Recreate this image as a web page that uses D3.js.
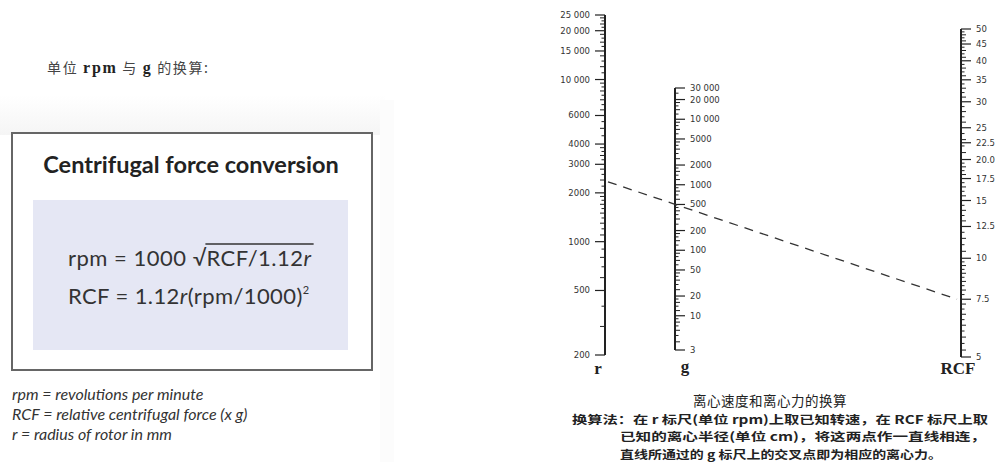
<!DOCTYPE html>
<html><head><meta charset="utf-8">
<script src="https://cdn.jsdelivr.net/npm/d3@7"></script>
<style>html,body{margin:0;padding:0;background:#fff;}svg{display:block;}</style>
</head><body>
<svg id="c" width="1000" height="462"></svg>
<script>
// ---- data ----
const rpmTicks = [25000, 20000, 15000, 10000, 6000, 4000, 3000, 2000, 1000, 500, 200];
const rpmLabels = ["25 000", "20 000", "15 000", "10 000", "6000", "4000", "3000", "2000", "1000", "500", "200"];
const gTicks = [30000, 20000, 10000, 5000, 2000, 1000, 500, 200, 100, 50, 20, 10, 3];
const gLabels = ["30 000", "20 000", "10 000", "5000", "2000", "1000", "500", "200", "100", "50", "20", "10", "3"];
const rcfTicks = [50, 45, 40, 35, 30, 25, 22.5, 20, 17.5, 15, 12.5, 10, 7.5, 5];
const rcfLabels = ["50", "45", "40", "35", "30", "25", "22.5", "20.0", "17.5", "15", "12.5", "10", "7.5", "5"];
const exampleRpm = 2340;     // known speed on r scale
const exampleRadius = 7.5;   // known radius on RCF scale (cm)
const axisTitles = ["r", "g", "RCF"];

const svg = d3.select("#c");

// ---- background scan shading ----
const defs = svg.append("defs");
const lg = defs.append("linearGradient").attr("id", "band").attr("x1", 0).attr("y1", 0).attr("x2", 0).attr("y2", 1);
lg.append("stop").attr("offset", "0").attr("stop-color", "#fff");
lg.append("stop").attr("offset", "1").attr("stop-color", "#f5f5f5");
svg.append("rect").attr("x", 0).attr("y", 95).attr("width", 385).attr("height", 40).attr("fill", "url(#band)");
svg.append("rect").attr("x", 380).attr("y", 100).attr("width", 14).attr("height", 362).attr("fill", "#fcfcfc");

// ---- left: heading ----
const hd = svg.append("text").attr("x", 47).attr("y", 73)
  .attr("font-family", "'Noto Sans CJK SC', sans-serif").attr("font-size", 14).attr("fill", "#444")
  .attr("textLength", 161).attr("lengthAdjust", "spacing");
hd.append("tspan").text("单位 ");
hd.append("tspan").attr("font-family", "'Liberation Serif', serif").attr("font-weight", "bold").attr("font-size", 16).attr("fill", "#222").text("rpm");
hd.append("tspan").text(" 与 ");
hd.append("tspan").attr("font-family", "'Liberation Serif', serif").attr("font-weight", "bold").attr("font-size", 16).attr("fill", "#222").text("g");
hd.append("tspan").text(" 的换算:");

// ---- left: box ----
svg.append("rect").attr("x", 12).attr("y", 133).attr("width", 360).attr("height", 237)
  .attr("fill", "#fff").attr("stroke", "#666").attr("stroke-width", 2);
svg.append("text").attr("x", 191).attr("y", 173).attr("text-anchor", "middle")
  .attr("font-family", "Lato, sans-serif").attr("font-weight", "bold").attr("font-size", 23.5).attr("fill", "#222")
  .text("Centrifugal force conversion");
svg.append("rect").attr("x", 33).attr("y", 200).attr("width", 315).attr("height", 150).attr("fill", "#e5e7f4");

const fFont = "Lato, sans-serif", fSize = 22, fCol = "#333";
// formula 1
const f1a = svg.append("text").attr("x", 68).attr("y", 266).attr("font-family", fFont).attr("font-size", fSize).attr("fill", fCol)
  .attr("letter-spacing", 0.5).text("rpm = 1000\u00a0");
const w1 = f1a.node().getComputedTextLength();
const rad = svg.append("text").attr("x", 68 + w1).attr("y", 266).attr("font-family", fFont).attr("font-size", fSize).attr("fill", fCol).text("√");
const wr = rad.node().getComputedTextLength();
const f1b = svg.append("text").attr("x", 68 + w1 + wr).attr("y", 266).attr("font-family", fFont).attr("font-size", fSize).attr("fill", fCol)
  .attr("letter-spacing", 0.5);
f1b.append("tspan").text("RCF/1.12");
f1b.append("tspan").attr("font-style", "italic").text("r");
const wb = f1b.node().getComputedTextLength();
svg.append("line").attr("x1", 68 + w1 + wr - 1).attr("x2", 68 + w1 + wr + wb + 2).attr("y1", 244).attr("y2", 244)
  .attr("stroke", fCol).attr("stroke-width", 1.4);
// formula 2
const f2 = svg.append("text").attr("x", 68).attr("y", 304).attr("font-family", fFont).attr("font-size", fSize).attr("fill", fCol)
  .attr("letter-spacing", 0.4);
f2.append("tspan").text("RCF = 1.12");
f2.append("tspan").attr("font-style", "italic").text("r");
f2.append("tspan").text("(rpm/1000)");
f2.append("tspan").attr("font-size", 11).attr("dy", -10).text("2");

// legend lines
const legendLines = [
  "rpm = revolutions per minute",
  "RCF = relative centrifugal force (x g)",
  "r = radius of rotor in mm"
];
legendLines.forEach((l, i) => {
  svg.append("text").attr("x", 12).attr("y", 400 + i * 20).attr("font-family", fFont).attr("font-style", "italic")
    .attr("font-size", 16).attr("fill", "#333").text(l);
});

// ---- right: nomogram ----
const rX = 605, gX = 675, cX = 961;
const yRpm = d3.scaleLog().domain([200, 25000]).range([355, 15]);
const yG = d3.scaleLog().domain([3, 30000]).range([350, 88]);
const yRcf = d3.scaleLog().domain([5, 50]).range([357, 29]);

const tickFont = "'DejaVu Sans', sans-serif";
const ink = "#222";

// minor tick sets (axis graduations)
const rpmMinor = [].concat(d3.range(300, 500, 100), d3.range(600, 1000, 100), d3.range(1100, 2000, 100),
  d3.range(2200, 4000, 200), d3.range(4500, 10000, 500), d3.range(11000, 25000, 1000));
const gMinor = [].concat(d3.range(4, 10, 1), d3.range(12, 20, 2), d3.range(25, 50, 5), d3.range(60, 100, 10),
  d3.range(120, 200, 20), d3.range(250, 500, 50), d3.range(600, 1000, 100), d3.range(1200, 2000, 200),
  d3.range(2500, 5000, 500), d3.range(6000, 10000, 1000), d3.range(12000, 20000, 2000), d3.range(25000, 30000, 5000));
const rcfMinor = [].concat(d3.range(5.25, 10, 0.25), d3.range(10.5, 20, 0.5), d3.range(21, 50, 1));

function drawAxis(scale, x, side, majors, labels, minors, domain) {
  const g = svg.append("g");
  g.append("line").attr("x1", x).attr("x2", x).attr("y1", scale(domain[1])).attr("y2", scale(domain[0]))
    .attr("stroke", ink).attr("stroke-width", 2);
  const dir = side === "left" ? -1 : 1;
  g.selectAll(".mn").data(minors.filter(v => majors.indexOf(v) < 0)).enter().append("line")
    .attr("x1", x).attr("x2", (d, i) => x + dir * (i % 2 === 0 ? 5 : 3.5))
    .attr("y1", d => scale(d)).attr("y2", d => scale(d)).attr("stroke", ink).attr("stroke-width", 1);
  g.selectAll(".mj").data(majors).enter().append("line")
    .attr("x1", x).attr("x2", x + dir * 10)
    .attr("y1", d => scale(d)).attr("y2", d => scale(d)).attr("stroke", ink).attr("stroke-width", 1.2);
  g.selectAll(".lb").data(majors).enter().append("text")
    .attr("x", x + dir * 15).attr("y", d => scale(d) + 3)
    .attr("text-anchor", side === "left" ? "end" : "start")
    .attr("font-family", tickFont).attr("font-size", 8.5).attr("fill", "#333")
    .text((d, i) => labels[i]);
}
drawAxis(yRpm, rX, "left", rpmTicks, rpmLabels, rpmMinor, [200, 25000]);
drawAxis(yG, gX, "right", gTicks, gLabels, gMinor, [3, 30000]);
drawAxis(yRcf, cX, "right", rcfTicks, rcfLabels, rcfMinor, [5, 50]);

// axis titles
const tFont = "'Liberation Serif', serif";
[[rX - 7, 374], [gX + 10, 372], [cX - 3, 374]].forEach((p, i) => {
  svg.append("text").attr("x", p[0]).attr("y", p[1]).attr("text-anchor", "middle")
    .attr("font-family", tFont).attr("font-weight", "bold").attr("font-size", 17).attr("fill", ink).text(axisTitles[i]);
});

// example dashed line
svg.append("line").attr("x1", rX + 3).attr("y1", yRpm(exampleRpm)).attr("x2", cX - 4).attr("y2", yRcf(exampleRadius))
  .attr("stroke", "#333").attr("stroke-width", 1.3).attr("stroke-dasharray", "9,7");

// caption
const cjk = "'Noto Sans CJK SC', sans-serif";
svg.append("text").attr("x", 770).attr("y", 406).attr("text-anchor", "middle").attr("font-family", cjk)
  .attr("font-size", 13.5).attr("fill", "#222").attr("letter-spacing", 0.5).text("离心速度和离心力的换算");
const cap = [
  [572, 424, 416, "换算法：在 r 标尺(单位 rpm)上取已知转速，在 RCF 标尺上取"],
  [620, 441, 366, "已知的离心半径(单位 cm)，将这两点作一直线相连，"],
  [620, 459, 322, "直线所通过的 g 标尺上的交叉点即为相应的离心力。"]
];
cap.forEach(c => {
  svg.append("text").attr("x", c[0]).attr("y", c[1]).attr("font-family", cjk).attr("font-weight", "bold")
    .attr("font-size", 11.5).attr("fill", "#222").attr("textLength", c[2]).attr("lengthAdjust", "spacingAndGlyphs").text(c[3]);
});
</script>
</body></html>
